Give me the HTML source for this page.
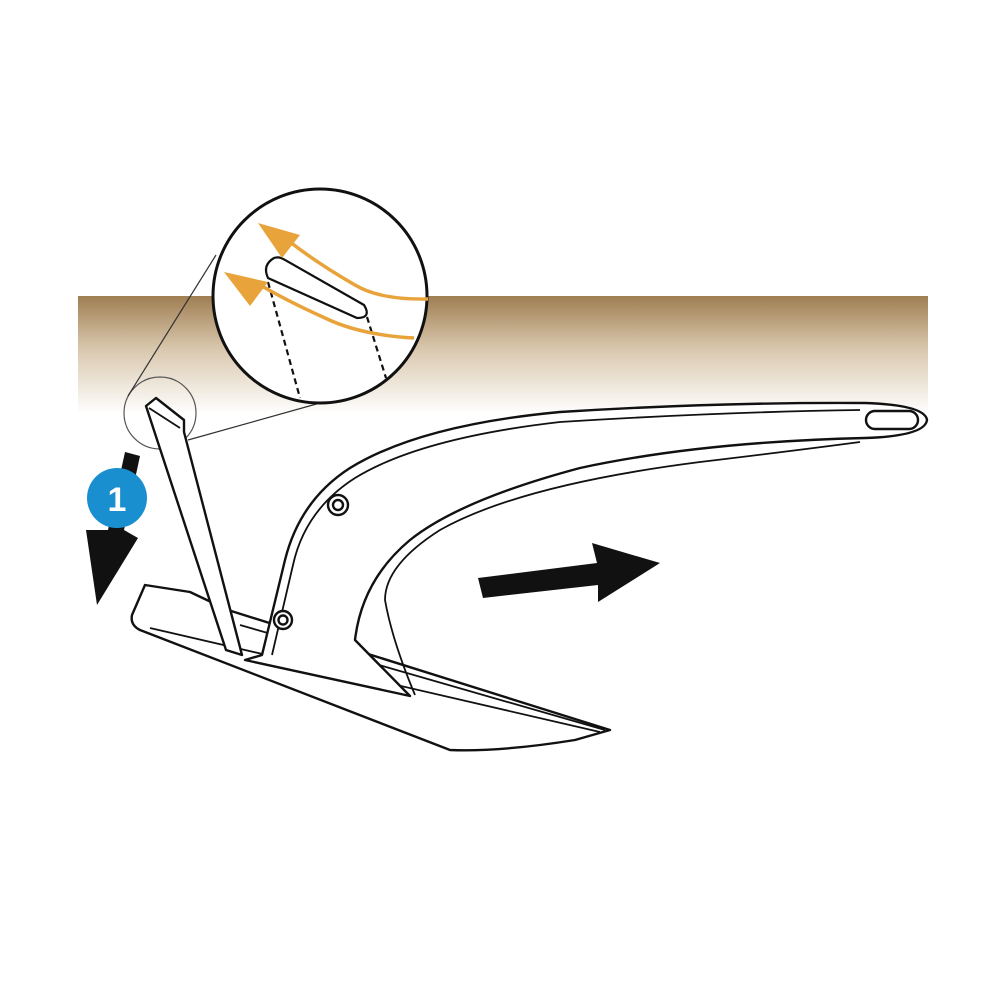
<!DOCTYPE html>
<html><head><style>html,body{margin:0;padding:0;background:#fff}svg{display:block}</style></head>
<body>
<svg width="1000" height="1000" viewBox="0 0 1000 1000" xmlns="http://www.w3.org/2000/svg">
<defs>
<linearGradient id="g" x1="0" y1="0" x2="0" y2="1">
<stop offset="0" stop-color="#9f7e52"/>
<stop offset="0.45" stop-color="#d9c8ae"/>
<stop offset="1" stop-color="#ffffff"/>
</linearGradient>
</defs>
<rect x="78" y="296" width="850" height="118" fill="url(#g)"/>
<circle cx="160" cy="413" r="36" fill="none" stroke="#555" stroke-width="1.2"/>
<line x1="128" y1="396" x2="216" y2="255" stroke="#333" stroke-width="1.2"/>
<line x1="188" y1="440" x2="320" y2="403" stroke="#333" stroke-width="1.2"/>
<circle cx="320" cy="296" r="107" fill="#fff" stroke="#111" stroke-width="3"/>
<g stroke="#111" stroke-width="2.2" fill="none">
<path d="M268 282 L300 398" stroke-dasharray="6,4"/>
<path d="M367 317 L386 378" stroke-dasharray="6,4"/>
<path d="M274 258 Q262 265 268 278 L357 318 Q372 318 364 305 L285 260 Q279 256 274 258 Z"/>
</g>
<g stroke="#e8a33a" stroke-width="3.5" fill="none">
<path d="M428 299 Q380 300 355 285 Q315 262 285 238"/>
<path d="M414 338 Q360 335 325 318 Q285 300 255 282"/>
</g>
<polygon points="258,223 300,235 282,258" fill="#e8a33a"/>
<polygon points="224,272 268,282 250,306" fill="#e8a33a"/>
<g stroke="#111" stroke-width="2.4" fill="#fff" stroke-linejoin="round">
<path d="M145 585 L190 592 L228 610 L610 730 L575 740 Q500 752 450 750 L140 630 Q130 625 132 615 Z"/>
<path d="M150 628 L600 732" fill="none" stroke-width="1.8"/>
<path d="M240 625 L605 730" fill="none" stroke-width="1.8"/>
<path d="M262 655 L285 560 Q300 500 350 468 Q420 425 560 412 Q720 402 865 403 Q925 405 927 420 Q925 436 865 438 Q700 442 580 468 Q460 500 410 540 Q362 580 355 640 L410 696 L245 660 Z"/>
<path d="M272 655 L293 565 Q305 510 355 478 Q420 438 560 422 Q720 412 860 410" fill="none" stroke-width="1.8"/>
<path d="M415 695 Q392 640 385 600 Q385 565 440 530 Q520 485 700 462 Q800 450 860 442" fill="none" stroke-width="1.8"/>
<rect x="866" y="411" width="52" height="18" rx="9" fill="#fff"/>
<circle cx="338" cy="505" r="10"/>
<circle cx="338" cy="505" r="5"/>
<circle cx="283" cy="620" r="9"/>
<circle cx="283" cy="620" r="4.5"/>
<path d="M146 406 L156 398 L184 420 L184 432 L242 655 L226 650 Z"/>
<path d="M149 408 L180 428" fill="none" stroke-width="1.8"/>
</g>
<polygon points="478,578 597,563 592,543 660,563 598,602 598,585 483,598" fill="#111"/>
<polygon points="125,452 140,456 124,530 138,538 97,605 86,530 108,530" fill="#111"/>
<circle cx="117" cy="498" r="30" fill="#1a8fd0"/>
<text x="117" y="511" font-family="Liberation Sans, sans-serif" font-size="34" font-weight="bold" fill="#fff" text-anchor="middle">1</text>
</svg>
</body></html>
